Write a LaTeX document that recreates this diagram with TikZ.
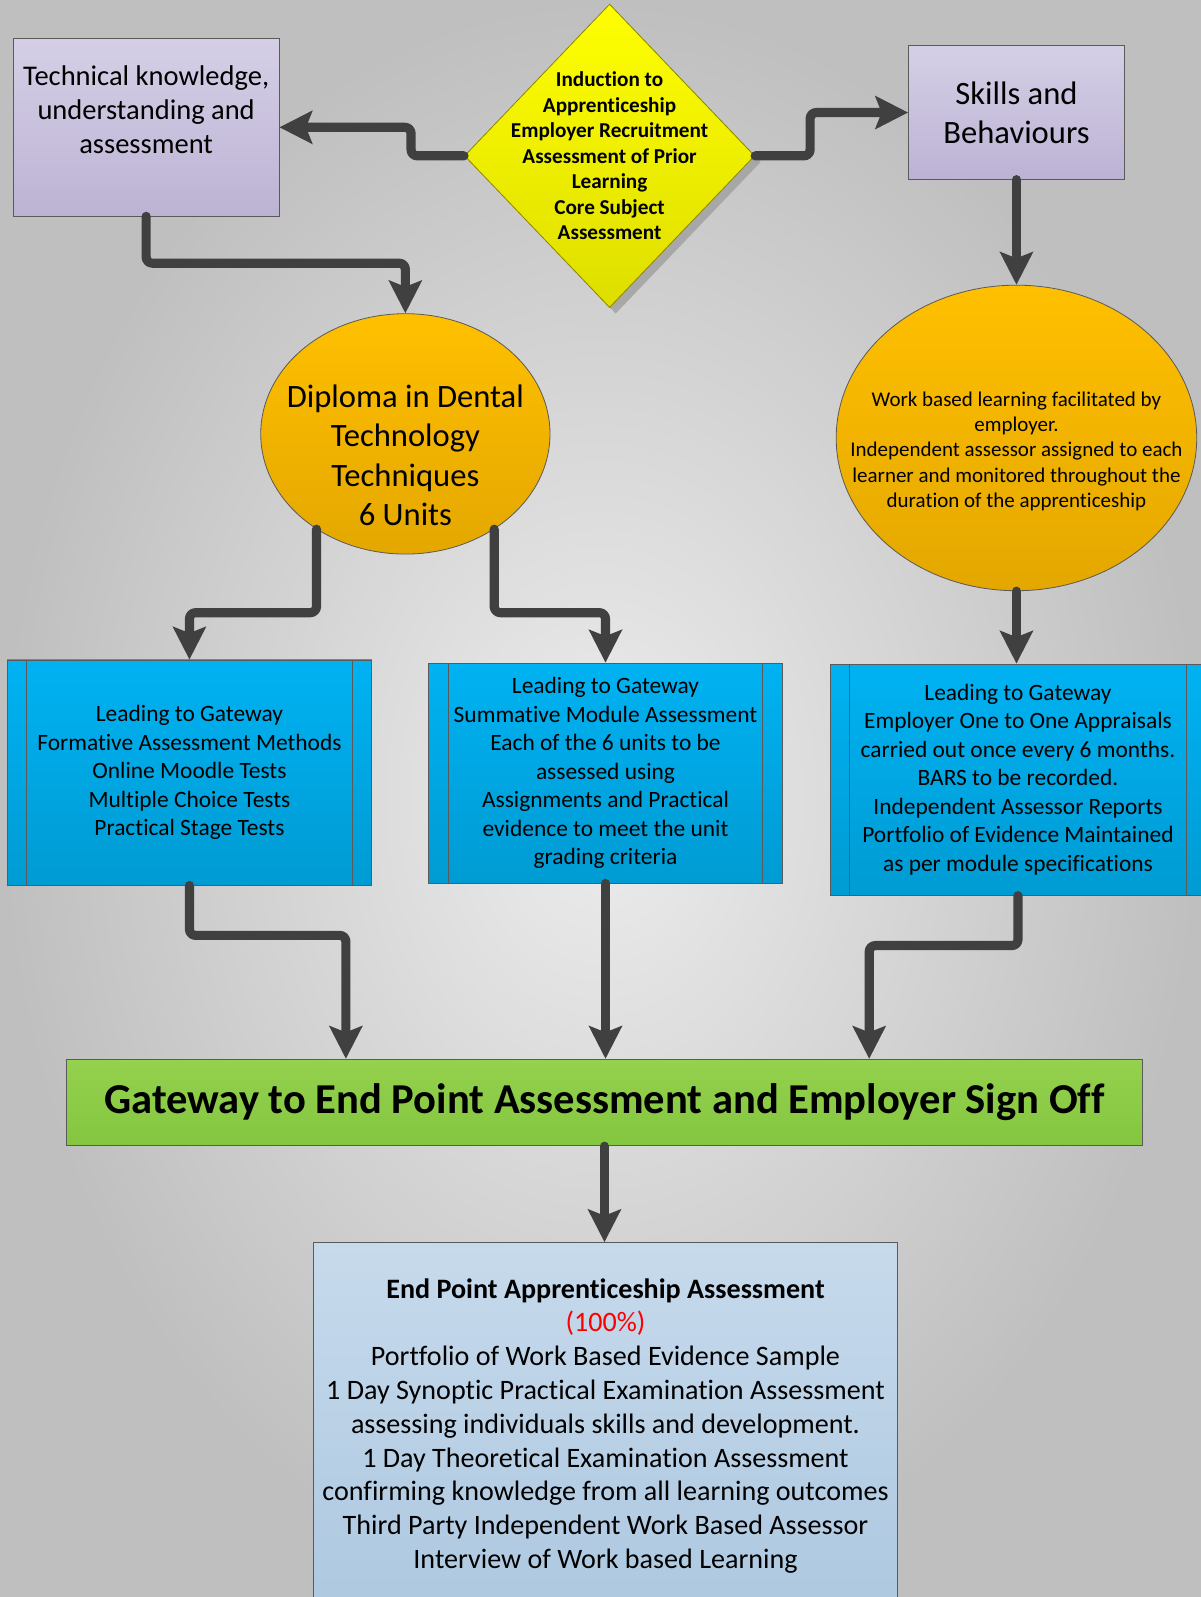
\documentclass[tikz,border=0pt]{standalone}
\usepackage{fontspec}
\setmainfont{Carlito}[Ligatures=NoCommon]
\usetikzlibrary{shapes.geometric,arrows.meta,shadows,positioning}
\definecolor{bgmid}{HTML}{EDEDED}
\definecolor{bgedge}{HTML}{BFBFBF}
\definecolor{lilactop}{HTML}{D5CFE6}
\definecolor{lilacbot}{HTML}{BCB3D4}
\definecolor{yeltop}{HTML}{FFFF00}
\definecolor{yelbot}{HTML}{DEDE00}
\definecolor{ortop}{HTML}{FFC000}
\definecolor{orbot}{HTML}{E4A700}
\definecolor{bluetop}{HTML}{00B2F2}
\definecolor{bluebot}{HTML}{009BD3}
\definecolor{greentop}{HTML}{94D14E}
\definecolor{greenbot}{HTML}{84C63F}
\definecolor{paletop}{HTML}{C7DAEC}
\definecolor{palebot}{HTML}{ADC8E0}
\definecolor{arrowgrey}{HTML}{404040}
\definecolor{edgegrey}{HTML}{5A5A5A}
\tikzset{
	lilacbox/.style = {draw=edgegrey, rectangle, top color=lilactop, bottom color=lilacbot,
		align=center},
	induct/.style   = {draw=olive, diamond, inner sep=0pt, top color=yeltop, bottom color=yelbot,
		drop shadow={shadow xshift=3pt, shadow yshift=-3pt, fill=gray!75, opacity=.8}},
	oval/.style     = {draw=edgegrey, ellipse, inner sep=0pt, top color=ortop, bottom color=orbot},
	process/.style  = {draw=edgegrey, rectangle, top color=bluetop, bottom color=bluebot,
		align=center, font=\fontsize{11.5pt}{14pt}\selectfont,
		path picture={\draw[edgegrey] ([xshift=9.5pt]path picture bounding box.north west) -- ([xshift=9.5pt]path picture bounding box.south west);
			\draw[edgegrey] ([xshift=-9.5pt]path picture bounding box.north east) -- ([xshift=-9.5pt]path picture bounding box.south east);}},
	gate/.style     = {draw=edgegrey, rectangle, top color=greentop, bottom color=greenbot,
		font=\bfseries\fontsize{20.9pt}{25pt}\selectfont},
	endbox/.style   = {draw=edgegrey, rectangle, top color=paletop, bottom color=palebot,
		align=center, font=\fontsize{13.8pt}{16.6pt}\selectfont},
	label/.style    = {align=center}, % text only
	flow/.style     = {arrowgrey, line width=4.5pt, line cap=round, line join=round, rounded corners=3pt,
		-{Stealth[length=16pt, width=16pt, inset=3pt]}}
}

\begin{document}
\begin{tikzpicture}[x=0.5pt, y=-0.5pt]
	\useasboundingbox (0,0) rectangle (1179,1568);
	\shade[inner color=bgmid, outer color=bgedge] (0,0) rectangle (1179,1568);

	\draw
	node at (143.5,125)[lilacbox, minimum width=130.5pt, minimum height=87pt] (tech) {}
	node at (143.5,108)[label, font=\fontsize{14pt}{16.6pt}\selectfont] (techtext) {Technical knowledge,\\understanding and\\assessment}
	node at (598.5,153)[induct, minimum width=142.5pt, minimum height=149pt] (ind) {}
	node at (ind.center)[label, font=\bfseries\fontsize{10.4pt}{12.5pt}\selectfont] (indtext) {Induction to\\Apprenticeship\\Employer Recruitment\\Assessment of Prior\\Learning\\Core Subject\\Assessment}
	node at (998,110.5)[lilacbox, minimum width=106pt, minimum height=65.5pt, font=\fontsize{16pt}{19pt}\selectfont] (skills) {Skills and\\Behaviours};

	\draw
	node at (398,426)[oval, minimum width=142pt, minimum height=118pt] (dip) {}
	node at (398,447)[label, font=\fontsize{16pt}{19.2pt}\selectfont] (diptext) {Diploma in Dental\\Technology\\Techniques\\6 Units}
	node at (998,430)[oval, minimum width=177pt, minimum height=150pt] (work) {}
	node at (998,443)[label, font=\fontsize{10.3pt}{12.4pt}\selectfont] (worktext) {Work based learning facilitated by\\employer.\\Independent assessor assigned to each\\learner and monitored throughout the\\duration of the apprenticeship};

	\draw
	node at (186,758.5)[process, minimum width=179pt, minimum height=110.5pt] (form) {Leading to Gateway\\Formative Assessment Methods\\Online Moodle Tests\\Multiple Choice Tests\\Practical Stage Tests}
	node at (594.5,759)[process, minimum width=173.5pt, minimum height=108pt] (summ) {Leading to Gateway\\Summative Module Assessment\\Each of the 6 units to be\\assessed using\\Assignments and Practical\\evidence to meet the unit\\grading criteria}
	node at (999.5,765.5)[process, minimum width=184.5pt, minimum height=113.5pt] (appr) {Leading to Gateway\\Employer One to One Appraisals\\carried out once every 6 months.\\BARS to be recorded.\\Independent Assessor Reports\\Portfolio of Evidence Maintained\\as per module specifications};

	\draw
	node at (593.5,1082.5)[gate, minimum width=528.5pt, minimum height=42.5pt] (gateway) {Gateway to End Point Assessment and Employer Sign Off}
	node at (594.5,1400)[endbox, minimum width=286.5pt, minimum height=180pt] (epa) {\textbf{End Point Apprenticeship Assessment}\\\textcolor{red}{(100\%)}\\Portfolio of Work Based Evidence Sample\\1 Day Synoptic Practical Examination Assessment\\assessing individuals skills and development.\\1 Day Theoretical Examination Assessment\\confirming knowledge from all learning outcomes\\Third Party Independent Work Based Assessor\\Interview of Work based Learning};

	% top row
	\draw[flow] (ind.west) -- ++(-52,0) |- (tech.east);
	\draw[flow] (ind.east) -- ++(54,0) |- (skills.west);
	\draw[flow] (tech.south) -- ++(0,46) -| (dip.north);
	\draw[flow] (skills.south) -- (work.north);
	% to the gateway boxes
	\draw[flow] (dip.227) -- ++(0,82) -| (form.north);
	\draw[flow] (dip.313) -- ++(0,82) -| (summ.north);
	\draw[flow] (work.south) -- (work.south |- appr.north);
	% gateway
	\draw[flow] (form.south) -- ++(0,49) -| ([xshift=137.5pt]gateway.north west);
	\draw[flow] (summ.south) -- (summ.south |- gateway.north);
	\draw[flow] (appr.south) -- ++(0,49) -| ([xshift=-134.5pt]gateway.north east);
	\draw[flow] (gateway.south) -- (gateway.south |- epa.north);
\end{tikzpicture}
\end{document}
